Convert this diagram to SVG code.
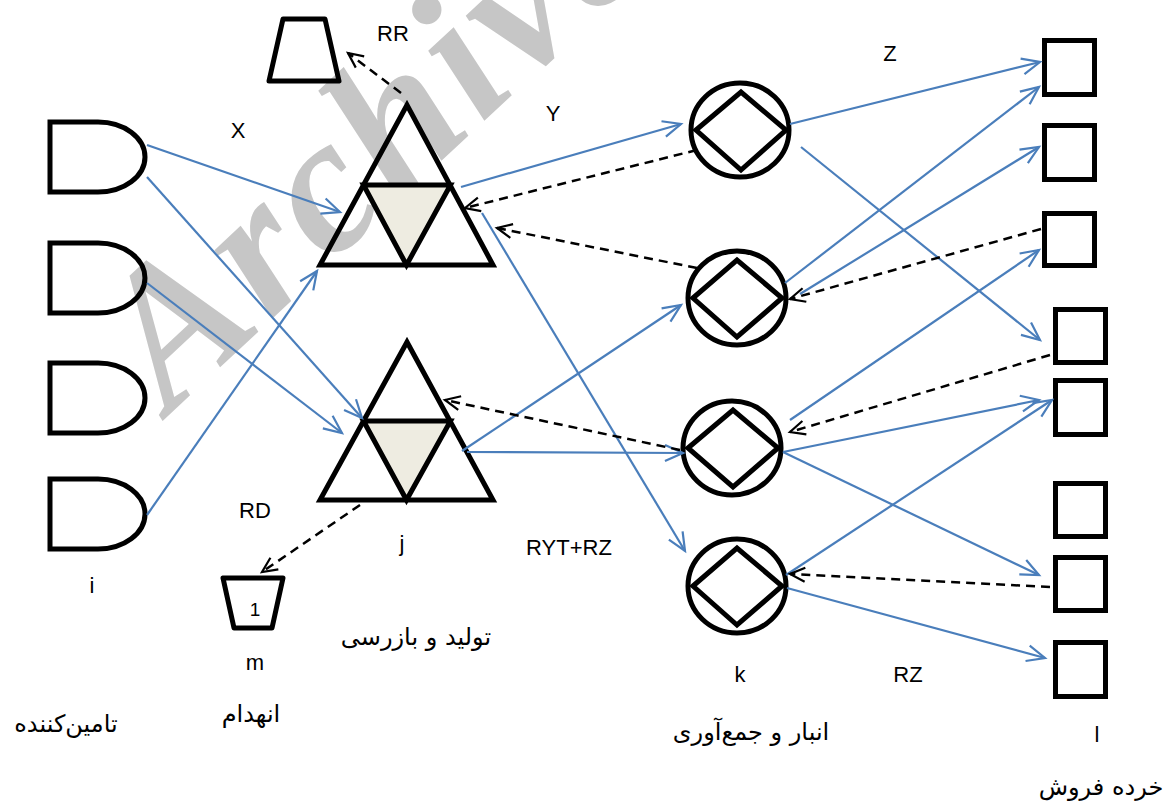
<svg xmlns="http://www.w3.org/2000/svg" width="1167" height="807" viewBox="0 0 1167 807">
<style>
.sh{fill:none;stroke:#000;stroke-width:5}
.in{fill:#EEECE1;stroke:#000;stroke-width:5}
.bl{fill:none;stroke:#4a7ebb;stroke-width:2.2;marker-end:url(#ab)}
.ds{fill:none;stroke:#000;stroke-width:2.5;stroke-dasharray:9,6;marker-end:url(#ak)}
.t{font-family:"Liberation Sans",Arial,sans-serif;font-size:22px;fill:#000;text-anchor:middle}
.fa{font-family:"DejaVu Sans","Noto Sans",sans-serif;font-size:24px;fill:#000;text-anchor:middle}
.wm{font-family:"Liberation Serif","Times New Roman",serif;font-weight:bold;font-style:italic;font-size:195px;letter-spacing:6px;fill:#c6c6c6}
</style>
<defs>
<marker id="ab" markerUnits="userSpaceOnUse" orient="auto" markerWidth="1" markerHeight="1" overflow="visible">
<path d="M-18,-8 L0,0 L-18,8" fill="none" stroke="#4a7ebb" stroke-width="2.2"/>
</marker>
<marker id="ak" markerUnits="userSpaceOnUse" orient="auto" markerWidth="1" markerHeight="1" overflow="visible">
<path d="M-15,-7 L0,0 L-15,7" fill="none" stroke="#000" stroke-width="2.2"/>
</marker>
</defs>
<rect width="1167" height="807" fill="#fff"/>
<text class="wm" transform="translate(170,414) rotate(-43)">Archive</text>

<g id="suppliers">
<g id="i1"><path class="sh" d="M50,122 H98 A47,35 0 0 1 98,192 H50 Z"/></g>
<g id="i2"><path class="sh" d="M50,243 H98 A47,35 0 0 1 98,313 H50 Z"/></g>
<g id="i3"><path class="sh" d="M50,363 H98 A47,35 0 0 1 98,433 H50 Z"/></g>
<g id="i4"><path class="sh" d="M50,479 H98 A47,35 0 0 1 98,549 H50 Z"/></g>
</g>

<g id="rr"><polygon class="sh" stroke-linejoin="round" points="283,19 325,19 339,81 269,81"/></g>
<g id="m"><polygon class="sh" stroke-linejoin="round" points="223,578 283,578 272,628 234,628"/>
<text class="t" x="255" y="616" style="font-size:19px">1</text></g>

<g id="j1">
<polygon class="sh" points="407,105 320,265 493,265"/>
<polygon class="in" points="363.5,185 450.5,185 406.5,265"/>
</g>
<g id="j2">
<polygon class="sh" points="407,342 320,500 493,500"/>
<polygon class="in" points="363.5,421 450.5,421 406.5,500"/>
</g>

<g id="k1"><ellipse class="sh" cx="740" cy="130" rx="49" ry="47"/><polygon class="sh" points="696,130 741,92 786,130 741,170"/></g>
<g id="k2"><ellipse class="sh" cx="737" cy="298" rx="49" ry="47"/><polygon class="sh" points="693,298 737,260 782,298 737,337"/></g>
<g id="k3"><ellipse class="sh" cx="732" cy="448" rx="49" ry="47"/><polygon class="sh" points="688,448 733,410 778,448 733,487"/></g>
<g id="k4"><ellipse class="sh" cx="737" cy="586" rx="49" ry="47"/><polygon class="sh" points="693,586 737,548 782,586 737,625"/></g>

<g id="retailers">
<g id="l1"><rect class="sh" x="1044.5" y="40.5" width="50" height="54"/></g>
<g id="l2"><rect class="sh" x="1044.5" y="125.5" width="50" height="54"/></g>
<g id="l3"><rect class="sh" x="1044.5" y="213.5" width="50" height="52"/></g>
<g id="l4"><rect class="sh" x="1055.5" y="309.5" width="50" height="53"/></g>
<g id="l5"><rect class="sh" x="1055.5" y="380.5" width="50" height="54"/></g>
<g id="l6"><rect class="sh" x="1055.5" y="483.5" width="50" height="53"/></g>
<g id="l7"><rect class="sh" x="1055.5" y="557.5" width="50" height="53"/></g>
<g id="l8"><rect class="sh" x="1055.5" y="642.5" width="50" height="54"/></g>
</g>

<g id="connectors">
<line class="bl" x1="147" y1="145" x2="340" y2="212"/>
<line class="bl" x1="147" y1="177" x2="362" y2="418"/>
<line class="bl" x1="147" y1="283" x2="342" y2="433"/>
<line class="bl" x1="147" y1="515" x2="317" y2="271"/>
<line class="bl" x1="461" y1="187" x2="681" y2="124"/>
<line class="bl" x1="482" y1="213" x2="685" y2="551"/>
<line class="bl" x1="462" y1="451" x2="681" y2="305"/>
<line class="bl" x1="467" y1="452" x2="683" y2="453"/>
<line class="bl" x1="790" y1="124" x2="1040" y2="62"/>
<line class="bl" x1="801" y1="147" x2="1040" y2="340"/>
<line class="bl" x1="785" y1="283" x2="1039" y2="87"/>
<line class="bl" x1="800" y1="294" x2="1039" y2="147"/>
<line class="bl" x1="790" y1="420" x2="1039" y2="250"/>
<line class="bl" x1="783" y1="452" x2="1039" y2="400"/>
<line class="bl" x1="783" y1="452" x2="1039" y2="575"/>
<line class="bl" x1="786" y1="575" x2="1052" y2="400"/>
<line class="bl" x1="787" y1="588" x2="1045" y2="658"/>
<line class="ds" x1="401" y1="93" x2="348" y2="53"/>
<line class="ds" x1="697" y1="150" x2="465" y2="208"/>
<line class="ds" x1="697" y1="268" x2="497" y2="228"/>
<line class="ds" x1="680" y1="450" x2="445" y2="400"/>
<line class="ds" x1="360" y1="505" x2="262" y2="572"/>
<line class="ds" x1="1041" y1="229" x2="790" y2="299"/>
<line class="ds" x1="1050" y1="355" x2="790" y2="432"/>
<line class="ds" x1="1050" y1="587" x2="790" y2="574"/>
</g>

<g id="labels">
<text class="t" x="238" y="138">X</text>
<text class="t" x="393" y="41">RR</text>
<text class="t" x="553" y="121">Y</text>
<text class="t" x="890" y="61">Z</text>
<text class="t" x="255" y="518">RD</text>
<text class="t" x="402" y="551">j</text>
<text class="t" x="92" y="593">i</text>
<text class="t" x="569" y="555">RYT+RZ</text>
<text class="t" x="740" y="682">k</text>
<text class="t" x="908" y="682">RZ</text>
<text class="t" x="255" y="670">m</text>
<text class="t" x="1097" y="742">l</text>
<text class="fa" x="416" y="645" direction="rtl">تولید و بازرسی</text>
<text class="fa" x="251" y="722" direction="rtl">انهدام</text>
<text class="fa" x="66" y="732" direction="rtl">تامین&#x200C;کننده</text>
<text class="fa" x="751" y="740" direction="rtl">انبار و جمع&#x200C;آوری</text>
<text class="fa" x="1101" y="795" direction="rtl">خرده فروش</text>
</g>
</svg>
